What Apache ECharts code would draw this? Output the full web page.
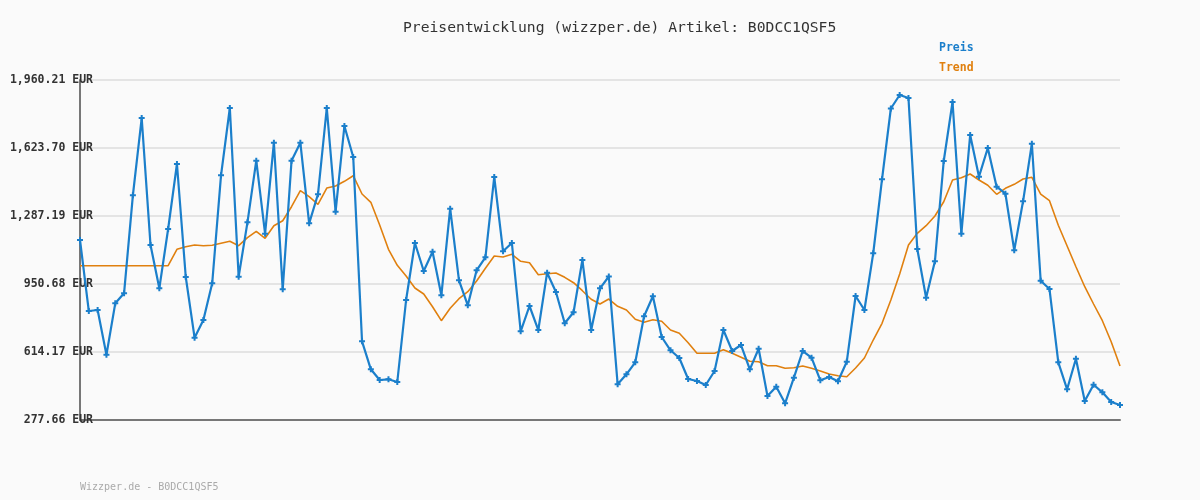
<!DOCTYPE html>
<html>
<head>
<meta charset="utf-8">
<script src="https://cdn.jsdelivr.net/npm/echarts@6/dist/echarts.min.js"></script>
<style>
html,body{margin:0;padding:0;background:#fafafa;}
#chart{width:1200px;height:500px;}
</style>
</head>
<body>
<div id="chart"></div>
<script>
const titleText = 'Preisentwicklung (wizzper.de) Artikel: B0DCC1QSF5';
const footerText = 'Wizzper.de - B0DCC1QSF5';
const seriesNames = ['Preis', 'Trend'];
const yMin = 277.66;
const yMax = 1960.21;
const yStep = 336.51;

const preis = [
  1168.4, 817.0, 822.0, 600.8, 855.1, 904.6, 1389.6, 1772.1, 1143.7, 929.4,
  1222.8, 1544.5, 985.3, 684.9, 772.5, 954.1, 1488.6, 1821.6, 986.8, 1256.0,
  1560.8, 1199.6, 1649.9, 924.4, 1560.8, 1649.9, 1251.0, 1394.6, 1821.6, 1308.5,
  1732.6, 1579.2, 667.1, 528.5, 475.6, 479.0, 465.7, 871.5, 1153.6, 1015.0,
  1110.5, 894.7, 1323.3, 969.0, 845.3, 1018.5, 1082.8, 1480.2, 1112.5, 1153.6,
  716.6, 841.8, 723.0, 1006.6, 911.1, 756.2, 810.6, 1069.4, 723.0, 929.4,
  987.8, 454.8, 503.8, 563.2, 790.8, 889.8, 688.4, 622.6, 584.5, 480.5,
  470.6, 450.8, 520.1, 723.0, 619.1, 648.8, 528.5, 630.5, 396.4, 442.4,
  360.3, 487.0, 619.1, 585.9, 474.1, 490.4, 469.2, 566.1, 891.3, 822.0,
  1102.6, 1469.3, 1819.2, 1886.0, 1871.1, 1123.9, 882.9, 1063.0, 1559.4, 1851.3,
  1199.6, 1688.0, 1481.7, 1623.7, 1432.2, 1397.5, 1117.4, 1359.9, 1645.0, 967.0,
  925.9, 563.2, 429.6, 581.0, 371.7, 452.3, 414.7, 366.7, 351.9
];

const trend = [
  1041.2, 1041.2, 1041.2, 1041.2, 1041.2, 1041.2, 1041.2, 1041.2, 1041.2, 1041.2,
  1041.2, 1122.4, 1135.3, 1143.7, 1140.2, 1142.2, 1152.1, 1162.0, 1140.2, 1179.8,
  1211.5, 1176.8, 1239.2, 1263.9, 1333.2, 1412.4, 1382.7, 1345.1, 1425.7, 1435.6,
  1458.9, 1486.6, 1396.0, 1355.0, 1242.6, 1122.4, 1043.2, 990.3, 930.9, 901.2,
  838.3, 769.1, 830.4, 877.9, 912.6, 965.5, 1028.4, 1089.2, 1084.3, 1097.6,
  1063.0, 1056.1, 996.7, 1001.6, 1005.1, 983.8, 957.1, 917.5, 875.4, 851.7,
  876.4, 840.3, 822.0, 776.0, 761.1, 774.0, 766.1, 723.0, 706.7, 660.2,
  607.7, 607.7, 607.7, 625.6, 607.7, 587.9, 568.1, 566.1, 546.3, 546.3,
  533.5, 536.5, 544.9, 533.5, 520.1, 505.3, 496.9, 491.9, 535.0, 584.5,
  673.5, 756.2, 871.5, 1000.2, 1143.7, 1201.6, 1239.2, 1287.2, 1357.9, 1465.3,
  1476.7, 1495.0, 1465.3, 1439.1, 1394.6, 1424.3, 1444.0, 1470.3, 1478.7, 1396.0,
  1362.9, 1241.2, 1138.7, 1036.3, 937.3, 851.7, 769.1, 665.1, 544.9
];

const categories = preis.map((_, i) => String(i + 1));

const BLUE = '#1b7fcb';
const ORANGE = '#e0800f';
const MONO = '"DejaVu Sans Mono", "Liberation Mono", monospace';
const plus = 'path://M2,0 L4,0 L4,2 L6,2 L6,4 L4,4 L4,6 L2,6 L2,4 L0,4 L0,2 L2,2 Z';

function fmt(v) {
  const n = Math.round(v * 100) / 100;
  const parts = n.toFixed(2).split('.');
  parts[0] = parts[0].replace(/\B(?=(\d{3})+(?!\d))/g, ',');
  return parts.join('.') + ' EUR';
}

const chart = echarts.init(document.getElementById('chart'));
chart.setOption({
  backgroundColor: '#fafafa',
  animation: false,
  title: [
    {
      text: titleText,
      left: 403,
      top: 21,
      padding: 0,
      textStyle: { fontFamily: MONO, fontSize: 14.7, fontWeight: 'normal', color: '#333' }
    },
    {
      text: footerText,
      left: 80,
      top: 482,
      padding: 0,
      textStyle: { fontFamily: MONO, fontSize: 10, fontWeight: 'normal', color: '#aaaaaa' }
    }
  ],
  legend: {
    orient: 'vertical',
    left: 934,
    top: 42,
    padding: 0,
    itemWidth: 0,
    itemHeight: 0,
    itemGap: 8,
    icon: 'none',
    data: [
      { name: seriesNames[0], textStyle: { color: BLUE } },
      { name: seriesNames[1], textStyle: { color: ORANGE } }
    ],
    textStyle: { fontFamily: MONO, fontSize: 11.5, fontWeight: 'bold' }
  },
  grid: { left: 80, right: 80, top: 80, bottom: 80 },
  xAxis: {
    type: 'category',
    data: categories,
    boundaryGap: false,
    axisLine: { show: true, lineStyle: { color: '#777', width: 2 } },
    axisTick: { show: false },
    axisLabel: { show: false },
    splitLine: { show: false }
  },
  yAxis: {
    type: 'value',
    min: yMin,
    max: yMax,
    interval: yStep,
    axisLine: { show: true, lineStyle: { color: '#777', width: 2 } },
    axisTick: { show: false },
    axisLabel: {
      margin: -13,
      fontFamily: MONO,
      fontSize: 11.5,
      fontWeight: 'bold',
      color: '#333',
      formatter: fmt
    },
    splitLine: { show: true, lineStyle: { color: '#e4e4e4', width: 2 } }
  },
  series: [
    {
      name: seriesNames[0],
      type: 'line',
      data: preis,
      symbol: plus,
      symbolSize: 6,
      showAllSymbol: true,
      itemStyle: { color: BLUE },
      lineStyle: { color: BLUE, width: 2.2 },
      z: 3
    },
    {
      name: seriesNames[1],
      type: 'line',
      data: trend,
      symbol: 'none',
      itemStyle: { color: ORANGE },
      lineStyle: { color: ORANGE, width: 1.6 },
      z: 2
    }
  ]
});
</script>
</body>
</html>
